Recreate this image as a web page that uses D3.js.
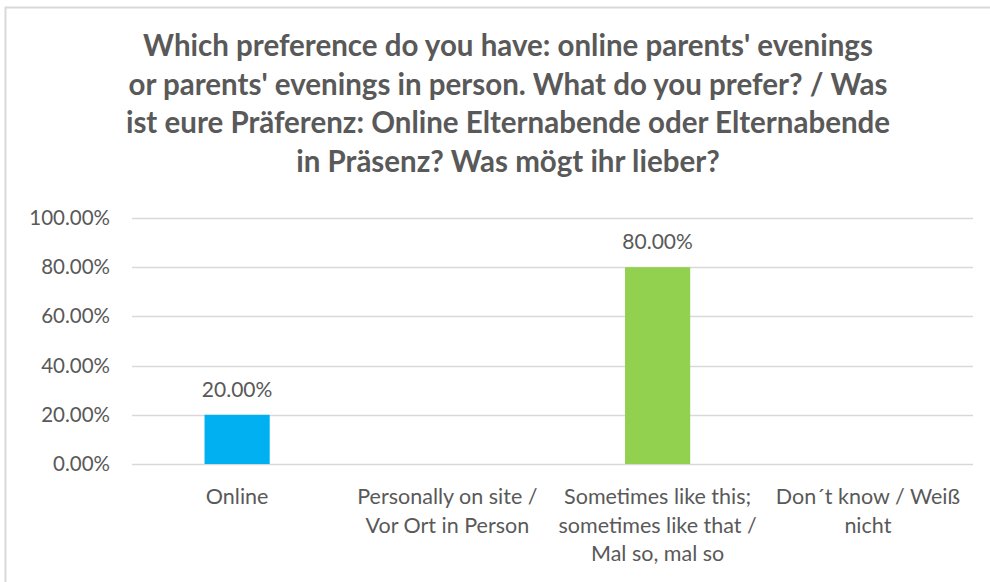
<!DOCTYPE html>
<html>
<head>
<meta charset="utf-8">
<script src="https://cdn.jsdelivr.net/npm/d3@7"></script>
<style>
  body { margin: 0; background: #fff; }
  svg text { font-family: Lato, "Open Sans", sans-serif; fill: #595959; }
</style>
</head>
<body>
<svg id="chart-svg" width="990" height="582"></svg>
<script>
const titleLines = [
  "Which preference do you have: online parents' evenings",
  "or parents' evenings in person. What do you prefer? / Was",
  "ist eure Präferenz: Online Elternabende oder Elternabende",
  "in Präsenz? Was mögt ihr lieber?"
];
const categories = [
  ["Online"],
  ["Personally on site /", "Vor Ort in Person"],
  ["Sometimes like this;", "sometimes like that /", "Mal so, mal so"],
  ["Don´t know / Weiß", "nicht"]
];
const values = [0.2, 0, 0.8, 0];
const barColors = ["#00B0F0", "#00B0F0", "#92D050", "#92D050"];
const yTicks = [0, 0.2, 0.4, 0.6, 0.8, 1.0];

const svg = d3.select("#chart-svg");
const margin = { left: 132, right: 17, top: 218, bottom: 118 };
const width = 990, height = 582;

// chart frame
svg.append("path")
  .attr("d", `M5.5,582 L5.5,7.5 L990,7.5`)
  .attr("fill", "none")
  .attr("stroke", "#d9d9d9")
  .attr("stroke-width", 2);

svg.append("g").selectAll("text").data(titleLines).join("text")
  .attr("x", 508)
  .attr("y", (d, i) => 56 + i * 38.7)
  .attr("text-anchor", "middle")
  .style("font-size", "29.5px")
  .style("font-weight", "bold")
  .text(d => d);

const x = d3.scaleBand()
  .domain(d3.range(categories.length))
  .range([margin.left, width - margin.right])
  .paddingInner(0.69).paddingOuter(0.345);

const y = d3.scaleLinear()
  .domain([0, 1])
  .range([height - margin.bottom, margin.top]);

// gridlines
svg.append("g").selectAll("line").data(yTicks).join("line")
  .attr("x1", margin.left).attr("x2", width - margin.right)
  .attr("y1", d => Math.round(y(d)) + 0.5).attr("y2", d => Math.round(y(d)) + 0.5)
  .attr("stroke", "#d9d9d9").attr("stroke-width", 1.5);

const yAxis = svg.append("g")
  .attr("transform", `translate(${margin.left}, 0)`)
  .call(d3.axisLeft(y).tickValues(yTicks).tickFormat(d3.format(".2%")).tickSize(0).tickPadding(22));
yAxis.select(".domain").remove();
yAxis.selectAll("text").style("font-size", "20.5px").attr("fill", "#595959");

svg.append("g").selectAll("rect").data(values).join("rect")
  .attr("x", (d, i) => x(i))
  .attr("y", d => y(d))
  .attr("width", x.bandwidth())
  .attr("height", d => y(0) - y(d))
  .attr("fill", (d, i) => barColors[i]);

svg.append("g").selectAll("text").data(values).join("text")
  .filter(d => d > 0)
  .attr("x", (d, i) => x(values.indexOf(d)) + x.bandwidth() / 2)
  .attr("y", d => y(d) - 18)
  .attr("text-anchor", "middle")
  .style("font-size", "21px")
  .text(d => d3.format(".2%")(d));

const catG = svg.append("g").selectAll("text").data(categories).join("text")
  .attr("x", (d, i) => x(i) + x.bandwidth() / 2)
  .attr("y", 504)
  .attr("text-anchor", "middle")
  .style("font-size", "21.5px");
catG.selectAll("tspan").data(d => d).join("tspan")
  .attr("x", function () { return d3.select(this.parentNode).attr("x"); })
  .attr("dy", (d, i) => i === 0 ? 0 : 28.5)
  .text(d => d);
</script>
</body>
</html>
